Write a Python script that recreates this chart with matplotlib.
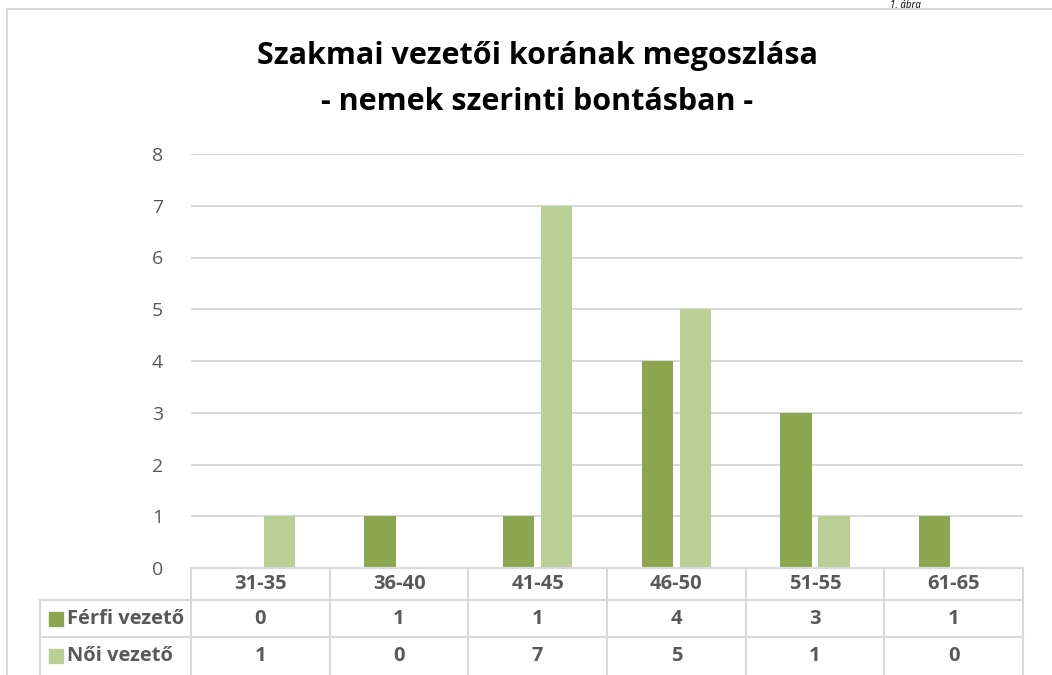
import matplotlib
matplotlib.use("Agg")
import matplotlib.pyplot as plt
import numpy as np

categories = ["31-35", "36-40", "41-45", "46-50", "51-55", "61-65"]
ferfi = [0, 1, 1, 4, 3, 1]
noi = [1, 0, 7, 5, 1, 0]
series_names = ["Férfi vezető", "Női vezető"]

W, H = 1052, 675
dark = "#8BA64E"
light = "#B9CF96"
grid_c = "#D9D9D9"
txt_c = "#595959"

plt.rcParams['font.family'] = ['Open Sans', 'DejaVu Sans']

fig = plt.figure(figsize=(W / 100, H / 100), dpi=100)

def fx(px):
    return px / W

def fy(py):
    return 1 - py / H

# plot area in pixels
x0, x1 = 191, 1023
y_top, y_bot = 154, 568
ax = fig.add_axes([fx(x0), fy(y_bot), fx(x1 - x0), (y_bot - y_top) / H])

x = np.arange(len(categories))
bw = 0.225
off = 0.137
ax.bar(x - off, ferfi, bw, color=dark, zorder=3)
ax.bar(x + off, noi, bw, color=light, zorder=3)
ax.set_xlim(-0.5, len(categories) - 0.5)
ax.set_ylim(0, 8)
ax.set_yticks(range(9))
ax.yaxis.grid(True, color=grid_c, linewidth=1.5, zorder=0)
ax.set_xticks([])
for s in ax.spines.values():
    s.set_visible(False)
ax.tick_params(axis='y', length=0, labelsize=14, labelcolor=txt_c, pad=20)

# outer chart border
fig.add_artist(plt.Line2D([fx(7), fx(7)], [fy(9), fy(675)], color=grid_c, lw=1.5))
fig.add_artist(plt.Line2D([fx(7), 1], [fy(9), fy(9)], color=grid_c, lw=1.5))

fig.text(fx(905), fy(0), "1. ábra", ha="center", va="top", fontsize=7,
         style="italic", color="#000000")

fig.text(fx(537), fy(56), "Szakmai vezetői korának megoszlása", ha="center",
         va="center", fontsize=22, fontweight="bold", color="#000000")
fig.text(fx(537), fy(102), "- nemek szerinti bontásban -", ha="center",
         va="center", fontsize=22, fontweight="bold", color="#000000")

# data table
row_y = [568, 600, 637, 675]
col_w = (x1 - x0) / len(categories)
tl = 40

def hline(xa, xb, y):
    fig.add_artist(plt.Line2D([fx(xa), fx(xb)], [fy(y), fy(y)], color=grid_c, lw=1.5))

def vline(xv, ya, yb):
    fig.add_artist(plt.Line2D([fx(xv), fx(xv)], [fy(ya), fy(yb)], color=grid_c, lw=1.5))

hline(x0, x1, row_y[0])
hline(tl, x1, row_y[1])
hline(tl, x1, row_y[2])
vline(tl, row_y[1], row_y[3])
for i in range(len(categories) + 1):
    vline(x0 + i * col_w, row_y[0], row_y[3])

fs = 14.5
for i, c in enumerate(categories):
    cx = x0 + (i + 0.5) * col_w
    fig.text(fx(cx), fy((row_y[0] + row_y[1]) / 2), c, ha="center", va="center",
             fontsize=fs, fontweight="bold", color=txt_c)
    fig.text(fx(cx), fy((row_y[1] + row_y[2]) / 2), str(ferfi[i]), ha="center",
             va="center", fontsize=fs, fontweight="bold", color=txt_c)
    fig.text(fx(cx), fy((row_y[2] + row_y[3]) / 2), str(noi[i]), ha="center",
             va="center", fontsize=fs, fontweight="bold", color=txt_c)

for r, (name, col) in enumerate(zip(series_names, [dark, light])):
    cy = (row_y[r + 1] + row_y[r + 2]) / 2
    fig.patches.append(plt.Rectangle((fx(49), fy(cy + 7)), fx(14), 14 / H,
                                     transform=fig.transFigure, color=col))
    fig.text(fx(67), fy(cy), name, ha="left", va="center", fontsize=fs,
             fontweight="bold", color=txt_c)

fig.savefig("out.png", dpi=100)
